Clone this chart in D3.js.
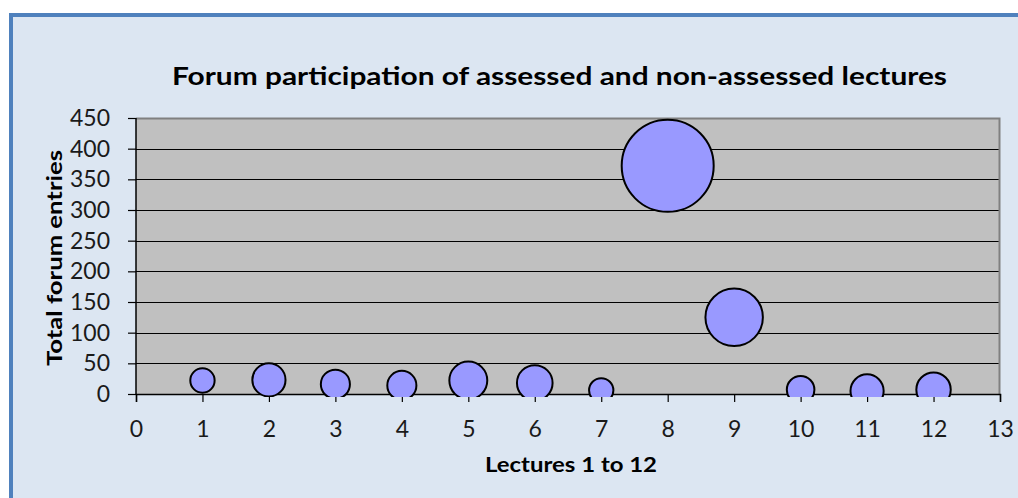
<!DOCTYPE html>
<html>
<head>
<meta charset="utf-8">
<script src="https://cdn.jsdelivr.net/npm/d3@7"></script>
<style>
  body { margin: 0; background: #fff; }
  svg { display: block; font-family: Lato, "Open Sans", sans-serif; }
</style>
</head>
<body>
<svg width="1018" height="498"></svg>
<script>
var lectures = [1, 2, 3, 4, 5, 6, 7, 8, 9, 10, 11, 12],
    entries = [22, 23, 16, 14, 22, 18, 6, 372, 125, 7, 5, 7],
    bubbleSize = [7, 13, 10, 10, 17, 15, 7, 100, 39, 9, 13, 14],
    xTicks = d3.range(0, 14),
    yTicks = d3.range(0, 451, 50);

var svg = d3.select("svg"),
    margin = {top: 118, right: 18, bottom: 104, left: 136},
    width = 1018 - margin.left - margin.right,
    height = 498 - margin.top - margin.bottom;

// chart area background + frame
svg.append("rect")
    .attr("x", 11).attr("y", 15)
    .attr("width", 1020).attr("height", 500)
    .attr("fill", "#dce6f2")
    .attr("stroke", "#4f81bd")
    .attr("stroke-width", 4);

var g = svg.append("g")
    .attr("transform", "translate(" + margin.left + "," + margin.top + ")");

var x = d3.scaleLinear()
    .domain([0, 13])
    .range([0, width]);

var y = d3.scaleLinear()
    .domain([0, 450])
    .range([height, 0]);

var r = d3.scaleSqrt()
    .domain([0, d3.max(bubbleSize)])
    .range([0, 46]);

g.append("rect")
    .attr("width", width)
    .attr("height", height)
    .attr("fill", "#c0c0c0");

// gridlines
g.selectAll(".grid")
    .data(yTicks.filter(function(d) { return d > 0 && d < 450; }))
  .enter().append("line")
    .attr("x1", 0).attr("x2", width)
    .attr("y1", function(d) { return Math.round(y(d)) + 0.5; })
    .attr("y2", function(d) { return Math.round(y(d)) + 0.5; })
    .attr("stroke", "#000")
    .attr("stroke-width", 1);

// plot border top / right
g.append("path")
    .attr("d", "M0,0.5H" + (width - 0.5) + "V" + height)
    .attr("fill", "none")
    .attr("stroke", "#808080")
    .attr("stroke-width", 2);

// axes
var xAxis = g.append("g")
    .attr("transform", "translate(0," + height + ")")
    .call(d3.axisBottom(x).tickValues(xTicks).tickSize(8).tickPadding(19).tickFormat(d3.format("d")));

var yAxis = g.append("g")
    .call(d3.axisLeft(y).tickValues(yTicks).tickSize(8).tickPadding(26));

[xAxis, yAxis].forEach(function(a) {
  a.select(".domain").attr("stroke", "#000").attr("stroke-width", 1.5);
  a.selectAll(".tick line").attr("stroke", "#000").attr("stroke-width", 1.2);
  a.selectAll("text")
      .attr("fill", "#1a1a1a")
      .style("font-family", "Lato, sans-serif")
      .style("font-size", "23px");
});
yAxis.select(".domain").attr("d", "M0," + height + "V0");
yAxis.selectAll(".tick text").attr("x", -26);

// bubbles
g.append("defs").append("clipPath")
    .attr("id", "clip")
  .append("rect")
    .attr("width", width)
    .attr("height", height + 3);

g.append("g")
    .attr("clip-path", "url(#clip)")
  .selectAll("circle")
    .data(lectures)
  .enter().append("circle")
    .attr("cx", function(d) { return x(d); })
    .attr("cy", function(d, i) { return y(entries[i]); })
    .attr("r", function(d, i) { return r(bubbleSize[i]); })
    .attr("fill", "#9999ff")
    .attr("stroke", "#000")
    .attr("stroke-width", 2);

// titles
svg.append("text")
    .attr("x", 559.5).attr("y", 85)
    .attr("text-anchor", "middle")
    .attr("textLength", 775)
    .attr("lengthAdjust", "spacingAndGlyphs")
    .style("font-size", "25px")
    .style("font-weight", "bold")
    .text("Forum participation of assessed and non-assessed lectures");

svg.append("text")
    .attr("x", 571).attr("y", 472)
    .attr("text-anchor", "middle")
    .attr("textLength", 172)
    .attr("lengthAdjust", "spacingAndGlyphs")
    .style("font-size", "21px")
    .style("font-weight", "bold")
    .text("Lectures 1 to 12");

svg.append("text")
    .attr("transform", "translate(62,258) rotate(-90)")
    .attr("text-anchor", "middle")
    .attr("textLength", 216)
    .attr("lengthAdjust", "spacingAndGlyphs")
    .style("font-size", "21px")
    .style("font-weight", "bold")
    .text("Total forum entries");
</script>
</body>
</html>
